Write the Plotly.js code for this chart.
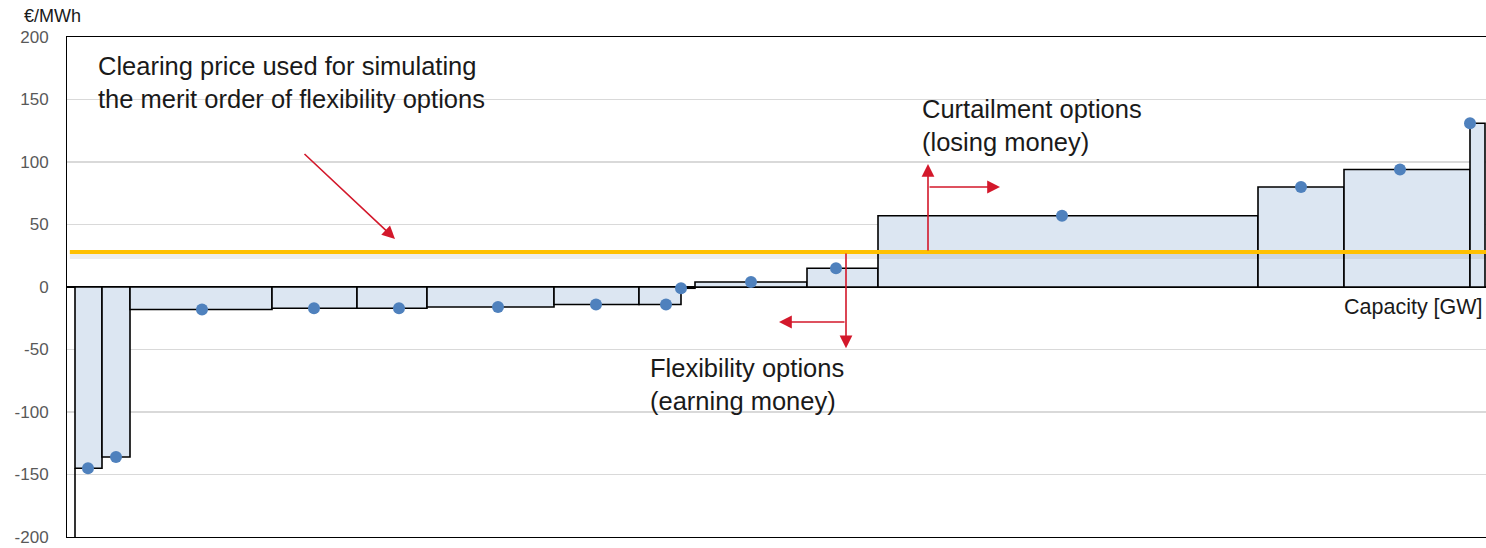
<!DOCTYPE html>
<html>
<head>
<meta charset="utf-8">
<script src="https://cdn.plot.ly/plotly-3.0.1.min.js"></script>
<style>
  html, body { margin: 0; padding: 0; background: #ffffff; }
  #chart { width: 1486px; height: 548px; }
</style>
</head>
<body>
<div id="chart"></div>
<script>
// Merit order of flexibility options: each block is one option,
// its width is the capacity offered [GW], its height the bid price [€/MWh].
const capacityWidths = [2.7, 2.8, 14.2, 8.5, 7.0, 12.7, 8.5, 4.2, 1.4, 11.2, 7.1, 38.0, 8.6, 12.6, 1.5];
const prices = [-145, -136, -18, -17, -17, -16, -14, -14, -1, 4, 15, 57, 80, 94, 131];
// Marker position of each option along the capacity axis
const dotCapacity = [1.3, 4.1, 12.7, 23.9, 32.4, 42.3, 52.1, 59.1, 60.6, 67.6, 76.1, 98.7, 122.6, 132.5, 139.5];
// Price at which the market clears
const clearingPrice = 28;
// Lowest admissible bid; the supply curve starts here
const priceFloor = -500;
// Price axis
const priceTicks = [200, 150, 100, 50, 0, -50, -100, -150, -200];
const priceTickLabels = ["200", "150", "100", "50", "0", "-50", "-100", "-150", "-200"];

// Block centres from the cumulative capacity
const blockStarts = [];
let acc = 0;
capacityWidths.forEach(w => { blockStarts.push(acc); acc += w; });
const blockCentres = blockStarts.map((s, i) => s + capacityWidths[i] / 2);

const FONT = "Liberation Sans, Arial, sans-serif";
const RED = "#d3182b";
const TEXT = "#1a1a1a";

const traces = [
  {
    type: "bar",
    x: blockCentres,
    y: prices,
    width: capacityWidths,
    marker: { color: "#dce6f2", line: { color: "#000000", width: 1.6 } },
    hoverinfo: "skip",
    showlegend: false
  },
  {
    // Vertical start of the supply curve from the bid floor
    type: "scatter",
    mode: "lines",
    x: [blockStarts[0], blockStarts[0]],
    y: [priceFloor, prices[0]],
    line: { color: "#000000", width: 1.6 },
    hoverinfo: "skip",
    showlegend: false
  },
  {
    type: "scatter",
    mode: "markers",
    x: dotCapacity,
    y: prices,
    marker: { color: "#4f81bd", size: 12 },
    hoverinfo: "skip",
    showlegend: false
  }
];

function arrow(x, y, ax, ay) {
  return {
    x: x, y: y, ax: ax, ay: ay, xref: "x", yref: "y", axref: "x", ayref: "y",
    text: "", showarrow: true, arrowhead: 2, arrowsize: 1.6, arrowwidth: 1.6,
    arrowcolor: RED, standoff: 0, startstandoff: 0
  };
}

function label(x, y, text) {
  return {
    xref: "x", yref: "y", x: x, y: y, xanchor: "left", yanchor: "middle", align: "left",
    text: text, showarrow: false, font: { family: FONT, size: 25.5, color: TEXT }
  };
}

const layout = {
  width: 1486,
  height: 548,
  margin: { l: 67, r: 0, t: 37, b: 11, pad: 0 },
  paper_bgcolor: "#ffffff",
  plot_bgcolor: "#ffffff",
  font: { family: FONT, color: TEXT },
  bargap: 0,
  xaxis: {
    range: [-0.8, 141.1],
    showgrid: false,
    zeroline: false,
    showticklabels: false,
    ticks: "",
    showline: true,
    mirror: true,
    linecolor: "#000000",
    linewidth: 1,
    fixedrange: true
  },
  yaxis: {
    range: [-200, 200],
    tickvals: priceTicks,
    ticktext: priceTickLabels,
    tickfont: { family: FONT, size: 17, color: "#595959" },
    ticks: "",
    ticklabelstandoff: 14,
    showgrid: true,
    gridcolor: "#d9d9d9",
    gridwidth: 1.2,
    zeroline: true,
    zerolinecolor: "#000000",
    zerolinewidth: 1.6,
    showline: true,
    mirror: true,
    linecolor: "#000000",
    linewidth: 1,
    fixedrange: true
  },
  shapes: [
    {
      // soft shadow below the clearing-price line
      type: "line", xref: "paper", yref: "y",
      x0: 0.002, x1: 1, y0: clearingPrice - 3.5, y1: clearingPrice - 3.5,
      line: { color: "rgba(0,0,0,0.07)", width: 5 }
    },
    {
      type: "line", xref: "paper", yref: "y",
      x0: 0.002, x1: 1, y0: clearingPrice, y1: clearingPrice,
      line: { color: "#ffc000", width: 4 }
    }
  ],
  annotations: [
    {
      xref: "paper", yref: "paper", x: -0.032, y: 1.042,
      xanchor: "left", yanchor: "middle",
      text: "€/MWh", showarrow: false,
      font: { family: FONT, size: 18, color: TEXT }
    },
    label(2.1, 163.5, "Clearing price used for simulating<br>the merit order of flexibility options"),
    label(84.5, 129.4, "Curtailment options<br>(losing money)"),
    label(57.3, -78, "Flexibility options<br>(earning money)"),
    {
      xref: "paper", yref: "y", x: 0.9995, y: -16, xanchor: "right", yanchor: "middle",
      text: "Capacity [GW]", showarrow: false,
      font: { family: FONT, size: 21.5, color: TEXT }
    },
    arrow(32.0, 38.5, 22.8, 107.5),
    arrow(77.1, -49, 77.1, clearingPrice),
    arrow(70.4, -28, 77.1, -28),
    arrow(85.3, 98.5, 85.3, clearingPrice),
    arrow(92.5, 80, 85.3, 80)
  ]
};

Plotly.newPlot("chart", traces, layout, { displayModeBar: false, staticPlot: true });
</script>
</body>
</html>
